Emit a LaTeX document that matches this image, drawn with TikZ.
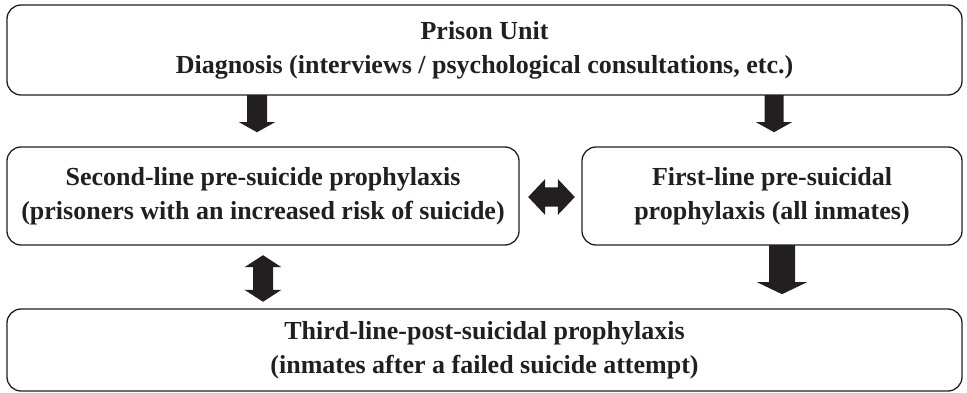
\documentclass[tikz,border=0pt]{standalone}
\usepackage{fontspec}
\setmainfont{Liberation Serif}
\usetikzlibrary{calc}
\definecolor{ink}{HTML}{231F20}
\tikzset{
  box/.style={draw=ink, line width=1.3pt, rounded corners=14pt},
  boxtext/.style={font=\fontsize{26}{34}\selectfont\bfseries, text=ink, align=center},
  fat/.style={fill=ink}
}
\begin{document}
\begin{tikzpicture}[x=1pt,y=-1pt]
\useasboundingbox (0,0) rectangle (967,393);
% boxes
\draw[box] (7,5) rectangle (962,95);
\draw[box] (7,147) rectangle (519,245);
\draw[box] (582,147) rectangle (962,245);
\draw[box] (7,309) rectangle (962,391);
\node[inner sep=0, minimum width=955, minimum height=90] (top) at (484.5,50) {};
\node[inner sep=0, minimum width=512, minimum height=98] (second) at (263,196) {};
\node[inner sep=0, minimum width=380, minimum height=98] (first) at (772,196) {};
\node[inner sep=0, minimum width=955, minimum height=82] (bottom) at (484.5,350) {};
\node[boxtext] (toptext) at (top.center) {Prison Unit\\Diagnosis (interviews / psychological consultations, etc.)};
\node[boxtext] (secondtext) at (second.center) {Second-line pre-suicide prophylaxis\\(prisoners with an increased risk of suicide)};
\node[boxtext] (firsttext) at (first.center) {First-line pre-suicidal\\prophylaxis (all inmates)};
\node[boxtext] (bottomtext) at (bottom.center) {Third-line-post-suicidal prophylaxis\\(inmates after a failed suicide attempt)};
% x positions
\coordinate (xa) at (257,0);
\coordinate (xb) at (774,0);
\coordinate (xc) at (263,0);
\coordinate (xd) at (782,0);
% down arrow top-left
\coordinate (a1) at (top.south -| xa);
\coordinate (a2) at ([yshift=-37pt]a1);
\fill[fat] ([xshift=-10pt]a1) -- ([xshift=10pt]a1) -- ([xshift=10pt,yshift=10pt]a2) -- ([xshift=18pt,yshift=10pt]a2) -- (a2) -- ([xshift=-18pt,yshift=10pt]a2) -- ([xshift=-10pt,yshift=10pt]a2) -- cycle;
% down arrow top-right
\coordinate (b1) at (top.south -| xb);
\coordinate (b2) at ([yshift=-37pt]b1);
\fill[fat] ([xshift=-9.5pt]b1) -- ([xshift=9.5pt]b1) -- ([xshift=9.5pt,yshift=10pt]b2) -- ([xshift=18pt,yshift=10pt]b2) -- (b2) -- ([xshift=-18pt,yshift=10pt]b2) -- ([xshift=-9.5pt,yshift=10pt]b2) -- cycle;
% down arrow first -> bottom
\coordinate (d1) at (first.south -| xd);
\coordinate (d2) at ([yshift=-49pt]d1);
\fill[fat] ([xshift=-13pt]d1) -- ([xshift=13pt]d1) -- ([xshift=13pt,yshift=12pt]d2) -- ([xshift=25pt,yshift=12pt]d2) -- (d2) -- ([xshift=-25pt,yshift=12pt]d2) -- ([xshift=-13pt,yshift=12pt]d2) -- cycle;
% double vertical arrow second <-> bottom
\coordinate (c1) at ([yshift=-10pt]second.south -| xc);
\coordinate (c2) at ([yshift=7pt]bottom.north -| xc);
\fill[fat] (c1) -- ([xshift=18.5pt,yshift=-12pt]c1) -- ([xshift=10pt,yshift=-12pt]c1) -- ([xshift=10pt,yshift=12pt]c2) -- ([xshift=18.5pt,yshift=12pt]c2) -- (c2) -- ([xshift=-18.5pt,yshift=12pt]c2) -- ([xshift=-10pt,yshift=12pt]c2) -- ([xshift=-10pt,yshift=-12pt]c1) -- ([xshift=-18.5pt,yshift=-12pt]c1) -- cycle;
% double horizontal arrow second <-> first
\coordinate (h1) at ([xshift=9pt,yshift=-1pt]second.east);
\coordinate (h2) at ([xshift=-7pt,yshift=-1pt]first.west);
\fill[fat] (h1) -- ([xshift=17pt,yshift=18pt]h1) -- ([xshift=17pt,yshift=9.5pt]h1) -- ([xshift=-17pt,yshift=9.5pt]h2) -- ([xshift=-17pt,yshift=18pt]h2) -- (h2) -- ([xshift=-17pt,yshift=-18pt]h2) -- ([xshift=-17pt,yshift=-9.5pt]h2) -- ([xshift=17pt,yshift=-9.5pt]h1) -- ([xshift=17pt,yshift=-18pt]h1) -- cycle;
\end{tikzpicture}
\end{document}
